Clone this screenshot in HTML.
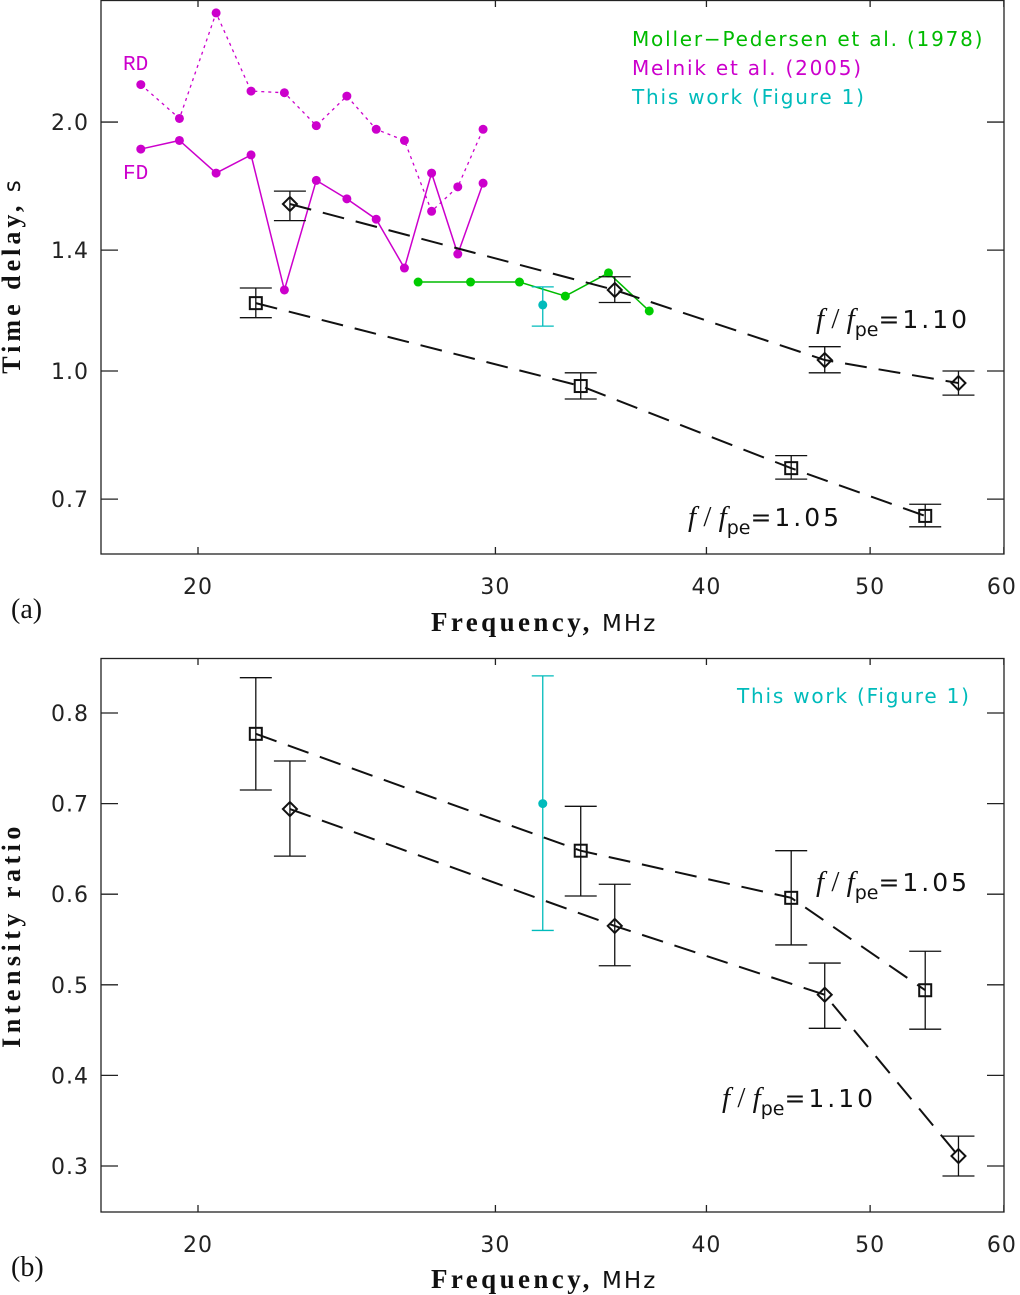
<!DOCTYPE html>
<html><head><meta charset="utf-8">
<style>
html,body{margin:0;padding:0;background:#fff;}
svg{display:block;}
.tick{font-family:"DejaVu Sans","Liberation Sans",sans-serif;font-size:22px;fill:#222;letter-spacing:1px;}
.ttl{font-family:"Liberation Serif",serif;font-weight:bold;font-size:26px;letter-spacing:2.6px;fill:#111;}
.ttlx{font-family:"Liberation Serif",serif;font-weight:bold;font-size:27px;letter-spacing:3.4px;fill:#111;}
.unit{font-family:"DejaVu Sans","Liberation Sans",sans-serif;font-size:23px;fill:#111;}
.leg{font-family:"DejaVu Sans","Liberation Sans",sans-serif;font-size:20px;letter-spacing:1.8px;}
.lab{font-family:"Liberation Serif",serif;font-size:29px;fill:#111;}
</style></head>
<body>
<svg id="chart" width="1020" height="1295" viewBox="0 0 1020 1295" xmlns="http://www.w3.org/2000/svg"></svg>
<script>
// ---- data ----
const xTicks = [20, 30, 40, 50, 60];
const yTicksA = [0.7, 1.0, 1.4, 2.0];
const yTicksB = [0.3, 0.4, 0.5, 0.6, 0.7, 0.8];
const melnikFreq = [18.5,19.5,20.5,21.5,22.5,23.5,24.5,25.5,26.5,27.5,28.5,29.5];
const melnikRD = [2.22,2.02,2.71,2.18,2.17,1.98,2.15,1.96,1.90,1.56,1.67,1.96];
const melnikFD = [1.855,1.90,1.735,1.825,1.253,1.70,1.615,1.526,1.332,1.735,1.385,1.687];
const mollerFreq = [27,29,31,33,35,37];
const mollerDelay = [1.281,1.281,1.281,1.232,1.314,1.182];
const cyanFreq = [32.0];
const cyanDelay = [1.202];
const cyanDelayLo = [1.133];
const cyanDelayHi = [1.264];
const sqFreq = [21.64, 33.7, 44.9, 53.9];
const sqDelay = [1.208, 0.959, 0.763, 0.668];
const sqDelayLo = [1.16, 0.925, 0.74, 0.648];
const sqDelayHi = [1.26, 0.995, 0.79, 0.69];
const diFreq = [22.67, 35.3, 47.0, 56.4];
const diDelay = [1.592, 1.253, 1.031, 0.967];
const diDelayLo = [1.52, 1.21, 0.995, 0.935];
const diDelayHi = [1.65, 1.30, 1.07, 1.0];
const sqRatio = [0.777, 0.648, 0.596, 0.494];
const sqRatioLo = [0.715, 0.598, 0.544, 0.451];
const sqRatioHi = [0.839, 0.697, 0.648, 0.537];
const diRatio = [0.694, 0.565, 0.489, 0.311];
const diRatioLo = [0.642, 0.521, 0.452, 0.289];
const diRatioHi = [0.747, 0.611, 0.524, 0.333];
const cyanRatio = [0.70];
const cyanRatioLo = [0.560];
const cyanRatioHi = [0.841];

// ---- axes ----
const X0 = 101, X1 = 1004;
const xs = f => 198 + 1689 * Math.log10(f / 20);
const ysA = v => 371 - 827 * Math.log10(v);
const ysB = v => 1166 - 906 * (v - 0.3);
const A = {top: 0, bot: 554}, B = {top: 658, bot: 1212};

const svg = document.getElementById('chart');
const NS = 'http://www.w3.org/2000/svg';
function mk(tag, at, parent) {
  const e = document.createElementNS(NS, tag);
  for (const k in at) e.setAttribute(k, at[k]);
  (parent || svg).appendChild(e);
  return e;
}
function grp(name) {
  const g = mk('g', {});
  
  
  return g;
}
function poly(pts, attrs, parent) {
  return mk('polyline', Object.assign({points: pts.map(p => p.join(',')).join(' '), fill: 'none'}, attrs), parent);
}

function axes(P, ticksY, ys, fmt, prefix, bottomLabelY) {
  const g = grp(prefix + '-axes');
  mk('rect', {x: X0, y: P.top + 0.5, width: X1 - X0, height: P.bot - P.top - 0.5, fill: 'none', stroke: '#222', 'stroke-width': 1.3}, g);
  xTicks.forEach(t => {
    const x = xs(t);
    mk('line', {x1: x, x2: x, y1: P.bot, y2: P.bot - 7, stroke: '#222', 'stroke-width': 1.3}, g);
    mk('line', {x1: x, x2: x, y1: P.top, y2: P.top + 7, stroke: '#222', 'stroke-width': 1.3}, g);
    const tx = mk('text', {x: t === 60 ? x - 2 : x, y: bottomLabelY, 'text-anchor': 'middle', class: 'tick'}, g);
    tx.textContent = t;
    
    
  });
  ticksY.forEach(t => {
    const y = ys(t);
    mk('line', {x1: X0, x2: X0 + 17, y1: y, y2: y, stroke: '#222', 'stroke-width': 1.3}, g);
    mk('line', {x1: X1, x2: X1 - 17, y1: y, y2: y, stroke: '#222', 'stroke-width': 1.3}, g);
    const tx = mk('text', {x: 89, y: y + 8, 'text-anchor': 'end', class: 'tick'}, g);
    tx.textContent = fmt(t);
    
    
  });
}
axes(A, yTicksA, ysA, t => t.toFixed(1), 'panel-a', 594);
axes(B, yTicksB, ysB, t => t.toFixed(1), 'panel-b', 1252);

function errbar(g, x, y1, y2, col, w) {
  mk('line', {x1: x, x2: x, y1: y1, y2: y2, stroke: col, 'stroke-width': 1.3}, g);
  mk('line', {x1: x - w, x2: x + w, y1: y1, y2: y1, stroke: col, 'stroke-width': 1.3}, g);
  mk('line', {x1: x - w, x2: x + w, y1: y2, y2: y2, stroke: col, 'stroke-width': 1.3}, g);
}
function square(g, x, y) { mk('rect', {x: x - 6, y: y - 6, width: 12, height: 12, fill: 'none', stroke: '#111', 'stroke-width': 2}, g); }
function diamond(g, x, y) { mk('polygon', {points: `${x},${y-7} ${x+7},${y} ${x},${y+7} ${x-7},${y}`, fill: 'none', stroke: '#111', 'stroke-width': 2}, g); }

function series(name, F, V, Lo, Hi, ys, shape) {
  const g = grp(name);
  poly(F.map((f, i) => [xs(f), ys(V[i])]), {stroke: '#111', 'stroke-width': 2, 'stroke-dasharray': '22,12'}, g);
  F.forEach((f, i) => {
    errbar(g, xs(f), ys(Hi[i]), ys(Lo[i]), '#111', 16);
    shape(g, xs(f), ys(V[i]));
  });
}

// panel a
const magenta = '#cc00cc';
let g = grp('melnik-rd-series');
poly(melnikFreq.map((f, i) => [xs(f), ysA(melnikRD[i])]), {stroke: magenta, 'stroke-width': 1.3, 'stroke-dasharray': '3,4'}, g);
melnikFreq.forEach((f, i) => mk('circle', {cx: xs(f), cy: ysA(melnikRD[i]), r: 4.5, fill: magenta}, g));
g = grp('melnik-fd-series');
poly(melnikFreq.map((f, i) => [xs(f), ysA(melnikFD[i])]), {stroke: magenta, 'stroke-width': 1.5}, g);
melnikFreq.forEach((f, i) => mk('circle', {cx: xs(f), cy: ysA(melnikFD[i]), r: 4.5, fill: magenta}, g));
g = grp('moller-series');
poly(mollerFreq.map((f, i) => [xs(f), ysA(mollerDelay[i])]), {stroke: '#00bb00', 'stroke-width': 1.5}, g);
mollerFreq.forEach((f, i) => mk('circle', {cx: xs(f), cy: ysA(mollerDelay[i]), r: 4.5, fill: '#00cc00'}, g));
g = grp('this-work-delay');
cyanFreq.forEach((f, i) => { errbar(g, xs(f), ysA(cyanDelayHi[i]), ysA(cyanDelayLo[i]), '#00bbbb', 11); mk('circle', {cx: xs(f), cy: ysA(cyanDelay[i]), r: 4.5, fill: '#00bbbb'}, g); });
series('delay-1-05-series', sqFreq, sqDelay, sqDelayLo, sqDelayHi, ysA, square);
series('delay-1-10-series', diFreq, diDelay, diDelayLo, diDelayHi, ysA, diamond);

// panel b
g = grp('this-work-ratio');
cyanFreq.forEach((f, i) => { errbar(g, xs(f), ysB(cyanRatioHi[i]), ysB(cyanRatioLo[i]), '#00bbbb', 11); mk('circle', {cx: xs(f), cy: ysB(cyanRatio[i]), r: 4.5, fill: '#00bbbb'}, g); });
series('ratio-1-05-series', sqFreq, sqRatio, sqRatioLo, sqRatioHi, ysB, square);
series('ratio-1-10-series', diFreq, diRatio, diRatioLo, diRatioHi, ysB, diamond);
</script>
<svg width="1020" height="1295" style="position:absolute;left:0;top:0" xmlns="http://www.w3.org/2000/svg">
  <text x="632" y="46" class="leg" fill="#00bb00">Moller−Pedersen et al. (1978)</text>
  <text x="632" y="75" class="leg" fill="#cc00cc">Melnik et al. (2005)</text>
  <text x="632" y="104" class="leg" fill="#00bbbb">This work (Figure 1)</text>
  <text x="737" y="703" class="leg" fill="#00bbbb">This work (Figure 1)</text>
  <text x="123" y="70" font-family="Liberation Mono, monospace" font-size="21" fill="#cc00cc">RD</text>
  <text x="123" y="179" font-family="Liberation Mono, monospace" font-size="21" fill="#cc00cc">FD</text>
  <text x="816" y="328" class="lab"><tspan font-style="italic">f</tspan> / <tspan font-style="italic">f</tspan><tspan font-size="19" dy="8" font-family="DejaVu Sans,sans-serif">pe</tspan><tspan dy="-8" font-family="DejaVu Sans,sans-serif" font-size="25" letter-spacing="3">=1.10</tspan></text>
  <text x="688" y="526" class="lab"><tspan font-style="italic">f</tspan> / <tspan font-style="italic">f</tspan><tspan font-size="19" dy="8" font-family="DejaVu Sans,sans-serif">pe</tspan><tspan dy="-8" font-family="DejaVu Sans,sans-serif" font-size="25" letter-spacing="3">=1.05</tspan></text>
  <text x="816" y="891" class="lab"><tspan font-style="italic">f</tspan> / <tspan font-style="italic">f</tspan><tspan font-size="19" dy="8" font-family="DejaVu Sans,sans-serif">pe</tspan><tspan dy="-8" font-family="DejaVu Sans,sans-serif" font-size="25" letter-spacing="3">=1.05</tspan></text>
  <text x="722" y="1107" class="lab"><tspan font-style="italic">f</tspan> / <tspan font-style="italic">f</tspan><tspan font-size="19" dy="8" font-family="DejaVu Sans,sans-serif">pe</tspan><tspan dy="-8" font-family="DejaVu Sans,sans-serif" font-size="25" letter-spacing="3">=1.10</tspan></text>
  <text x="431" y="631" class="ttlx">Frequency,<tspan class="unit" font-weight="normal" letter-spacing="2"> MHz</tspan></text>
  <text x="431" y="1288" class="ttlx">Frequency,<tspan class="unit" font-weight="normal" letter-spacing="2"> MHz</tspan></text>
  <text transform="translate(20,276) rotate(-90)" text-anchor="middle" class="ttl" style="letter-spacing:4px">Time delay,<tspan class="unit" font-weight="normal" letter-spacing="2"> s</tspan></text>
  <text transform="translate(20,935) rotate(-90)" text-anchor="middle" class="ttl" style="letter-spacing:4.5px">Intensity ratio</text>
  <text x="11" y="618" font-family="Liberation Serif, serif" font-size="28" fill="#111">(a)</text>
  <text x="11" y="1276" font-family="Liberation Serif, serif" font-size="28" fill="#111">(b)</text>
</svg>
</body></html>
